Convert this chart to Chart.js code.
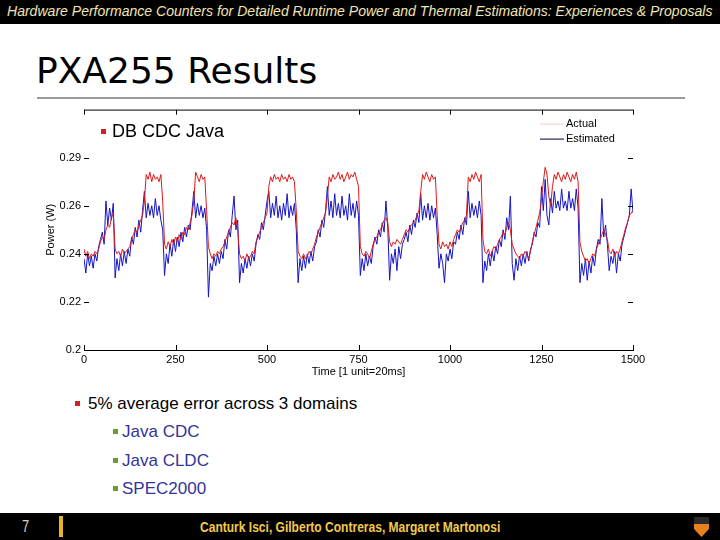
<!DOCTYPE html>
<html>
<head>
<meta charset="utf-8">
<script src="https://cdn.jsdelivr.net/npm/chart.js@4.4.1/dist/chart.umd.min.js"></script>
<style>
  html, body { margin: 0; padding: 0; background: #fff; }
  body { width: 720px; height: 540px; position: relative; overflow: hidden; font-family: "Liberation Sans", Arial, sans-serif; }
  .topbar { position: absolute; left: 0; top: 0; width: 720px; height: 24px; background: #000; }
  .topbar span { position: absolute; left: 7px; top: 3px; font-size: 14px; font-style: italic; color: #f1e5b3; white-space: nowrap; transform-origin: 0 0; }
  .title { position: absolute; left: 36px; top: 50px; font-family: "DejaVu Sans", Verdana, sans-serif; font-size: 36px; color: #000; white-space: nowrap; }
  .rule { position: absolute; left: 37px; top: 97px; width: 648px; height: 2px; background: #9a9a9a; }
  #chartBox { position: absolute; left: 0; top: 100px; width: 680px; height: 290px; }
  .bullet { position: absolute; white-space: nowrap; font-size: 17px; }
  .bullet i { position: absolute; width: 5px; height: 5px; }
  .footer { position: absolute; left: 0; top: 513px; width: 720px; height: 27px; background: #000; }
  .footer .num { position: absolute; left: 22px; top: 4px; font-size: 17px; color: #d9d2b5; transform: scaleX(0.75); transform-origin: 0 0; }
  .footer .bar { position: absolute; left: 59px; top: 3px; width: 4px; height: 21px; background: #e5b325; }
  .footer .names { position: absolute; left: 200px; top: 6px; font-size: 14px; font-weight: bold; color: #f2c94c; white-space: nowrap; transform-origin: 0 0; }
  .footer .shield { position: absolute; left: 694px; top: 4px; width: 15px; height: 20px; background: linear-gradient(#2a2a2a 0 35%, #e8801f 35% 100%); clip-path: polygon(0 0, 100% 0, 100% 60%, 50% 100%, 0 60%); }
</style>
</head>
<body>
<div class="topbar"><span id="topText">Hardware Performance Counters for Detailed Runtime Power and Thermal Estimations: Experiences &amp; Proposals</span></div>
<div class="title">PXA255 Results</div>
<div class="rule"></div>

<div id="chartBox"><canvas id="powerChart" width="680" height="290"></canvas></div>

<div class="bullet" style="left:112px; top:121px; font-size:18px;"><i style="left:-11px; top:8px; background:#d42020;"></i>DB CDC Java</div>

<div class="bullet" style="left:88px; top:394px;"><i style="left:-13px; top:7px; background:#d42020;"></i>5% average error across 3 domains</div>
<div class="bullet" style="left:122px; top:422px; color:#333399;"><i style="left:-9px; top:7px; background:#6e9a2e;"></i>Java CDC</div>
<div class="bullet" style="left:122px; top:451px; color:#333399;"><i style="left:-9px; top:7px; background:#6e9a2e;"></i>Java CLDC</div>
<div class="bullet" style="left:122px; top:479px; color:#333399;"><i style="left:-9px; top:7px; background:#6e9a2e;"></i>SPEC2000</div>

<div class="footer">
  <span class="num">7</span>
  <div class="bar"></div>
  <span class="names" id="footText">Canturk Isci, Gilberto Contreras, Margaret Martonosi</span>
  <div class="shield"></div>
</div>

<script>
// fit the slide header / footer text to the widths they take in the slide
function fitWidth(id, width) {
    const el = document.getElementById(id);
    el.style.transform = `scaleX(${width / el.offsetWidth})`;
}
fitWidth("topText", 705);
fitWidth("footText", 300);

// sampling step of the traces, in time units (1 unit = 20 ms)
const timeStep = 5;

// measured power (W), one value every 5 time units, 0..1500
const actualPower = [
    0.242, 0.239, 0.241, 0.238, 0.240, 0.239, 0.241, 0.240, 0.242, 0.245, 0.247, 0.246, 0.250, 0.252, 0.251, 0.255, 0.257, 0.242, 0.240, 0.241,
    0.239, 0.242, 0.240, 0.241, 0.242, 0.243, 0.246, 0.248, 0.250, 0.249, 0.252, 0.254, 0.256, 0.262, 0.273, 0.271, 0.274, 0.270, 0.273, 0.271,
    0.272, 0.270, 0.273, 0.262, 0.244, 0.242, 0.245, 0.243, 0.246, 0.244, 0.247, 0.245, 0.248, 0.246, 0.249, 0.248, 0.251, 0.250, 0.253, 0.256,
    0.262, 0.274, 0.272, 0.270, 0.273, 0.271, 0.272, 0.258, 0.243, 0.240, 0.238, 0.240, 0.239, 0.241, 0.240, 0.242, 0.243, 0.245, 0.247, 0.249,
    0.251, 0.253, 0.252, 0.255, 0.250, 0.240, 0.238, 0.239, 0.237, 0.240, 0.238, 0.239, 0.241, 0.240, 0.245, 0.247, 0.249, 0.251, 0.253, 0.255,
    0.257, 0.268, 0.272, 0.270, 0.273, 0.271, 0.272, 0.270, 0.273, 0.271, 0.272, 0.270, 0.273, 0.271, 0.272, 0.270, 0.258, 0.241, 0.239, 0.238,
    0.240, 0.238, 0.239, 0.241, 0.240, 0.242, 0.244, 0.247, 0.249, 0.251, 0.253, 0.255, 0.257, 0.264, 0.272, 0.270, 0.273, 0.271, 0.272, 0.274,
    0.271, 0.273, 0.270, 0.272, 0.274, 0.271, 0.273, 0.272, 0.274, 0.271, 0.268, 0.243, 0.240, 0.239, 0.241, 0.240, 0.238, 0.241, 0.244, 0.246,
    0.247, 0.249, 0.250, 0.252, 0.254, 0.255, 0.253, 0.245, 0.243, 0.245, 0.244, 0.246, 0.245, 0.244, 0.246, 0.248, 0.250, 0.249, 0.251, 0.252,
    0.253, 0.254, 0.256, 0.258, 0.266, 0.273, 0.271, 0.274, 0.272, 0.270, 0.273, 0.271, 0.272, 0.256, 0.244, 0.242, 0.245, 0.243, 0.244, 0.242,
    0.245, 0.243, 0.246, 0.248, 0.250, 0.249, 0.251, 0.253, 0.254, 0.256, 0.272, 0.270, 0.273, 0.271, 0.274, 0.272, 0.270, 0.273, 0.246, 0.241,
    0.240, 0.242, 0.239, 0.241, 0.243, 0.242, 0.244, 0.246, 0.247, 0.249, 0.248, 0.251, 0.253, 0.250, 0.244, 0.242, 0.240, 0.239, 0.238, 0.240,
    0.239, 0.241, 0.240, 0.238, 0.241, 0.245, 0.248, 0.251, 0.254, 0.257, 0.263, 0.270, 0.276, 0.273, 0.264, 0.260, 0.268, 0.273, 0.271, 0.274,
    0.272, 0.270, 0.273, 0.271, 0.274, 0.272, 0.270, 0.273, 0.271, 0.274, 0.270, 0.245, 0.241, 0.239, 0.237, 0.238, 0.236, 0.238, 0.240, 0.239,
    0.242, 0.244, 0.246, 0.248, 0.250, 0.248, 0.246, 0.241, 0.240, 0.242, 0.239, 0.241, 0.240, 0.242, 0.245, 0.248, 0.251, 0.253, 0.256, 0.257,
    0.258
];

// estimated power (W) from the performance counters, same sampling
const estimatedPower = [
    0.238, 0.232, 0.240, 0.235, 0.239, 0.234, 0.240, 0.237, 0.243, 0.246, 0.249, 0.244, 0.262, 0.252, 0.259, 0.254, 0.261, 0.230, 0.238, 0.233,
    0.240, 0.235, 0.241, 0.236, 0.242, 0.239, 0.247, 0.244, 0.251, 0.247, 0.254, 0.249, 0.258, 0.266, 0.255, 0.261, 0.256, 0.260, 0.255, 0.263,
    0.256, 0.260, 0.254, 0.250, 0.231, 0.240, 0.236, 0.244, 0.239, 0.246, 0.241, 0.247, 0.243, 0.249, 0.245, 0.251, 0.247, 0.252, 0.250, 0.258,
    0.266, 0.255, 0.261, 0.256, 0.260, 0.255, 0.259, 0.250, 0.222, 0.236, 0.233, 0.239, 0.235, 0.240, 0.236, 0.241, 0.238, 0.246, 0.242, 0.250,
    0.247, 0.256, 0.264, 0.250, 0.254, 0.228, 0.236, 0.232, 0.238, 0.234, 0.239, 0.235, 0.240, 0.237, 0.244, 0.248, 0.246, 0.253, 0.250, 0.256,
    0.262, 0.266, 0.255, 0.261, 0.256, 0.264, 0.255, 0.260, 0.254, 0.261, 0.256, 0.265, 0.255, 0.260, 0.256, 0.261, 0.250, 0.228, 0.238, 0.233,
    0.239, 0.234, 0.240, 0.236, 0.241, 0.237, 0.243, 0.245, 0.250, 0.247, 0.254, 0.251, 0.258, 0.268, 0.256, 0.262, 0.255, 0.265, 0.256, 0.261,
    0.255, 0.264, 0.256, 0.260, 0.254, 0.265, 0.256, 0.261, 0.255, 0.262, 0.256, 0.231, 0.238, 0.233, 0.240, 0.235, 0.239, 0.236, 0.243, 0.247,
    0.244, 0.250, 0.247, 0.253, 0.249, 0.262, 0.251, 0.229, 0.240, 0.236, 0.242, 0.233, 0.243, 0.238, 0.244, 0.246, 0.249, 0.245, 0.252, 0.248,
    0.254, 0.251, 0.257, 0.253, 0.265, 0.254, 0.260, 0.255, 0.261, 0.254, 0.260, 0.255, 0.259, 0.248, 0.234, 0.240, 0.236, 0.228, 0.240, 0.237,
    0.242, 0.238, 0.245, 0.244, 0.249, 0.246, 0.252, 0.248, 0.255, 0.252, 0.266, 0.255, 0.261, 0.256, 0.260, 0.255, 0.262, 0.256, 0.228, 0.237,
    0.233, 0.240, 0.235, 0.241, 0.237, 0.243, 0.240, 0.246, 0.243, 0.250, 0.246, 0.255, 0.250, 0.264, 0.236, 0.229, 0.238, 0.233, 0.239, 0.235,
    0.240, 0.236, 0.241, 0.237, 0.242, 0.244, 0.249, 0.247, 0.253, 0.251, 0.268, 0.258, 0.271, 0.256, 0.252, 0.263, 0.257, 0.266, 0.259, 0.262,
    0.258, 0.267, 0.259, 0.262, 0.258, 0.266, 0.259, 0.263, 0.258, 0.267, 0.259, 0.228, 0.236, 0.231, 0.238, 0.229, 0.237, 0.232, 0.239, 0.235,
    0.242, 0.246, 0.244, 0.263, 0.247, 0.252, 0.244, 0.233, 0.239, 0.236, 0.241, 0.232, 0.240, 0.237, 0.244, 0.247, 0.250, 0.253, 0.256, 0.267,
    0.257
];

const timeLabels = actualPower.map((_, i) => i * timeStep);

const yTickValues = [0.2, 0.22, 0.24, 0.26, 0.28];
const yTickLabels = ["0.2", "0.22", "0.24", "0.26", "0.29"];
const xTickStep = 250;

const seriesNames = ["Actual", "Estimated"];
const seriesColors = ["#dd1a1a", "#1414c4"];
const legendLineColors = ["#f3c9c0", "#000033"];

// MATLAB style frame: top rule, inward ticks and the small legend box
const matlabFrame = {
    id: "matlabFrame",
    afterDraw(chart) {
        const ctx = chart.ctx;
        const area = chart.chartArea;
        const xs = chart.scales.x;
        const ys = chart.scales.y;

        ctx.save();
        ctx.strokeStyle = "#000";
        ctx.lineWidth = 1;
        ctx.beginPath();
        ctx.moveTo(area.left, area.top + 0.5);
        ctx.lineTo(area.right, area.top + 0.5);

        xs.ticks.forEach(t => {
            const px = Math.round(xs.getPixelForValue(t.value)) + 0.5;
            ctx.moveTo(px, area.top);
            ctx.lineTo(px, area.top + 5);
            ctx.moveTo(px, area.bottom);
            ctx.lineTo(px, area.bottom - 5);
        });
        ys.ticks.forEach(t => {
            const py = Math.round(ys.getPixelForValue(t.value)) + 0.5;
            ctx.moveTo(area.left, py);
            ctx.lineTo(area.left + 5, py);
            ctx.moveTo(area.right, py);
            ctx.lineTo(area.right - 5, py);
        });
        ctx.stroke();

        // legend
        ctx.font = "11px 'Liberation Sans', Arial, sans-serif";
        ctx.textBaseline = "middle";
        seriesNames.forEach((name, i) => {
            const y = area.top + 14.5 + i * 15;
            ctx.strokeStyle = legendLineColors[i];
            ctx.beginPath();
            ctx.moveTo(area.right - 93, y);
            ctx.lineTo(area.right - 69, y);
            ctx.stroke();
            ctx.fillStyle = "#000";
            ctx.fillText(name, area.right - 67, y);
        });
        ctx.restore();
    }
};

const ctx = document.getElementById("powerChart").getContext("2d");
new Chart(ctx, {
    type: "line",
    data: {
        labels: timeLabels,
        datasets: [
            {
                label: seriesNames[0],
                data: actualPower,
                borderColor: seriesColors[0],
                borderWidth: 1,
                pointRadius: 0,
                tension: 0
            },
            {
                label: seriesNames[1],
                data: estimatedPower,
                borderColor: seriesColors[1],
                borderWidth: 1,
                pointRadius: 0,
                tension: 0
            }
        ]
    },
    options: {
        responsive: false,
        animation: false,
        events: [],
        layout: {
            padding: { top: 7, right: 47, left: 0, bottom: 0 }
        },
        plugins: {
            legend: { display: false },
            tooltip: { enabled: false }
        },
        scales: {
            x: {
                type: "linear",
                min: 0,
                max: 1500,
                afterFit: (scale) => { scale.height = 40; },
                grid: { display: false, drawTicks: false },
                border: { display: true, color: "#000", width: 1 },
                ticks: {
                    stepSize: xTickStep,
                    padding: 3,
                    maxRotation: 0,
                    autoSkip: false,
                    color: "#000",
                    font: { family: "'Liberation Sans', Arial, sans-serif", size: 11 },
                    callback: (value) => String(value)
                },
                title: {
                    display: true,
                    text: "Time [1 unit=20ms]",
                    color: "#000",
                    font: { family: "'Liberation Sans', Arial, sans-serif", size: 11 },
                    padding: { top: 0, bottom: 11 }
                }
            },
            y: {
                min: 0.2,
                max: 0.3,
                afterFit: (scale) => { scale.width = 84; },
                afterBuildTicks: (scale) => {
                    scale.ticks = yTickValues.map(v => ({ value: v }));
                },
                grid: { display: false, drawTicks: false },
                border: { display: false },
                ticks: {
                    padding: 3,
                    color: "#000",
                    font: { family: "'Liberation Sans', Arial, sans-serif", size: 11 },
                    callback: (value, index) => yTickLabels[index]
                },
                title: {
                    display: true,
                    text: "Power (W)",
                    color: "#000",
                    font: { family: "'Liberation Sans', Arial, sans-serif", size: 11 },
                    padding: { top: 44, bottom: 0 }
                }
            }
        }
    },
    plugins: [matlabFrame]
});
</script>
</body>
</html>
